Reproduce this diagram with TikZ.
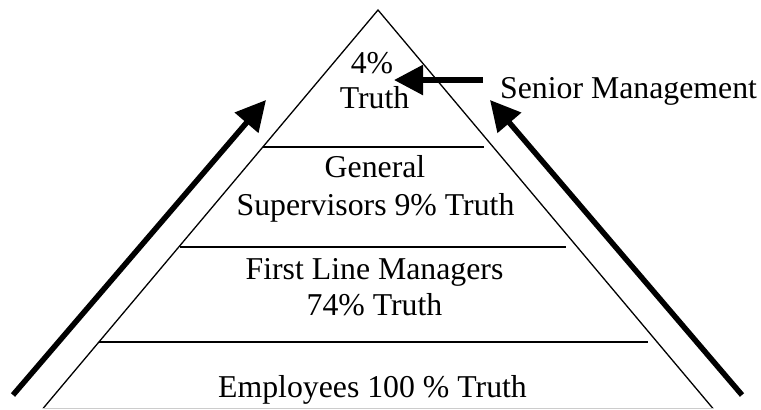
\documentclass[tikz,border=0pt]{standalone}
\usepackage{fontspec}
\setmainfont{Liberation Serif}
\usetikzlibrary{arrows.meta}
\tikzset{
  lbl/.style={anchor=base, inner sep=0pt, font=\fontsize{31.9}{36}\selectfont},
  edge/.style={line width=1.3bp, line join=miter},
  tier/.style={line width=2.5bp},
  bigarrow/.style={line width=5.5bp, -{Triangle[length=30bp,width=30bp]}},
}
\begin{document}
\begin{tikzpicture}[x=1bp,y=-1bp]
\useasboundingbox (0,0) rectangle (761,409);
% pyramid
\coordinate (apex) at (378,10);
\coordinate (bl) at (43,408.5);
\coordinate (br) at (713,408.5);
\draw[edge] (bl) -- (apex) -- (br);
\draw[line width=1bp, black!20] (bl) -- (br);
% tier lines
\coordinate (l1a) at (263,147); \coordinate (l1b) at (484,147);
\coordinate (l2a) at (180,247); \coordinate (l2b) at (566,247);
\coordinate (l3a) at (99,342);  \coordinate (l3b) at (648,342);
\draw[tier] (l1a) -- (l1b);
\draw[tier] (l2a) -- (l2b);
\draw[tier] (l3a) -- (l3b);
% texts
\node[lbl] (t4) at (372,73) {4\%};
\node[lbl] (ttruth) at (374.5,108) {Truth};
\node[lbl] (gen) at (375,177) {General};
\node[lbl] (sup) at (375.5,215) {Supervisors 9\% Truth};
\node[lbl] (flm) at (374.5,279) {First Line Managers};
\node[lbl] (t74) at (374.5,315) {74\% Truth};
\node[lbl] (emp) at (372.5,397) {Employees 100 \% Truth};
\node[lbl, anchor=base west] (sm) at (500,98) {Senior Management};
% arrows
\coordinate (smtail) at (483,80);
\coordinate (smtip) at (394,80);
\draw[line width=5.5bp, -{Triangle[length=29bp,width=29bp]}] (smtail) -- (smtip);
\coordinate (la) at (13,395);
\coordinate (lb) at (266,100);
\draw[bigarrow] (la) -- (lb);
\coordinate (ra) at (742,395);
\coordinate (rb) at (490,100);
\draw[bigarrow] (ra) -- (rb);
\end{tikzpicture}
\end{document}
